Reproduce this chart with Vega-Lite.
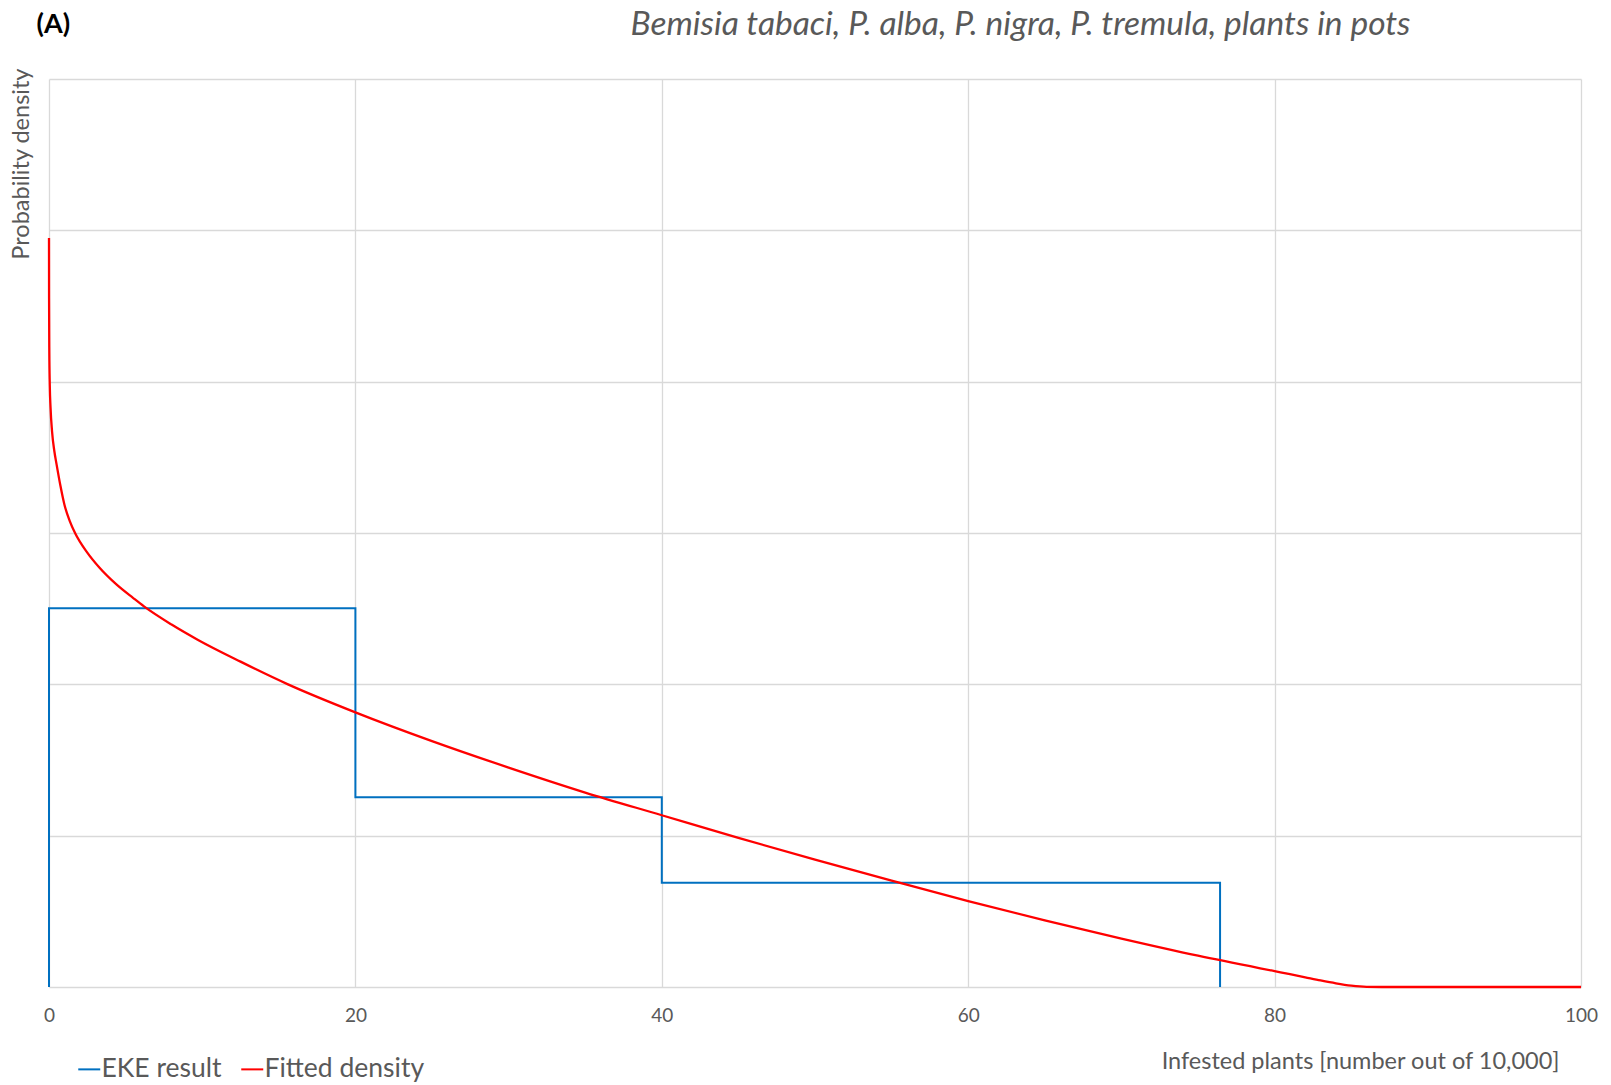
{
  "$schema": "https://vega.github.io/schema/vega-lite/v6.json",
  "autosize": "none",
  "width": 1532,
  "height": 908,
  "padding": {"left": 49, "top": 79, "right": 30, "bottom": 98},
  "background": "white",
  "config": {
    "view": {"stroke": null},
    "font": "Lato",
    "axis": {"gridColor": "#d9d9d9", "gridWidth": 1.3, "domain": false, "ticks": false}
  },
  "title": {
    "text": "Bemisia tabaci, P. alba, P. nigra, P. tremula, plants in pots",
    "font": "Lato",
    "fontStyle": "italic",
    "fontWeight": "normal",
    "fontSize": 33.5,
    "color": "#595959",
    "anchor": "end",
    "dx": -187,
    "baseline": "alphabetic",
    "offset": -58
  },
  "datasets": {
    "eke": [
      {"series": "EKE result", "x": 0, "y": 0, "k": 1},
      {"series": "EKE result", "x": 0, "y": 2.503, "k": 2},
      {"series": "EKE result", "x": 20, "y": 2.503, "k": 3},
      {"series": "EKE result", "x": 20, "y": 1.254, "k": 4},
      {"series": "EKE result", "x": 40, "y": 1.254, "k": 5},
      {"series": "EKE result", "x": 40, "y": 0.689, "k": 6},
      {"series": "EKE result", "x": 76.44, "y": 0.689, "k": 7},
      {"series": "EKE result", "x": 76.44, "y": 0, "k": 8}
    ],
    "fit": [
      {"series": "Fitted density", "x": 0, "y": 4.95},
      {"series": "Fitted density", "x": 0.005, "y": 4.55},
      {"series": "Fitted density", "x": 0.02, "y": 4.2},
      {"series": "Fitted density", "x": 0.05, "y": 3.98},
      {"series": "Fitted density", "x": 0.1, "y": 3.83},
      {"series": "Fitted density", "x": 0.2, "y": 3.67},
      {"series": "Fitted density", "x": 0.35, "y": 3.54},
      {"series": "Fitted density", "x": 0.5, "y": 3.45},
      {"series": "Fitted density", "x": 0.75, "y": 3.31},
      {"series": "Fitted density", "x": 1.0, "y": 3.19},
      {"series": "Fitted density", "x": 1.35, "y": 3.08},
      {"series": "Fitted density", "x": 1.7, "y": 3.0},
      {"series": "Fitted density", "x": 2.5, "y": 2.87},
      {"series": "Fitted density", "x": 3.3, "y": 2.77},
      {"series": "Fitted density", "x": 4.4, "y": 2.66},
      {"series": "Fitted density", "x": 5.5, "y": 2.57},
      {"series": "Fitted density", "x": 6.2, "y": 2.515},
      {"series": "Fitted density", "x": 8, "y": 2.395},
      {"series": "Fitted density", "x": 9.7, "y": 2.295},
      {"series": "Fitted density", "x": 12.5, "y": 2.15},
      {"series": "Fitted density", "x": 15.6, "y": 2.0},
      {"series": "Fitted density", "x": 20, "y": 1.815},
      {"series": "Fitted density", "x": 25, "y": 1.625},
      {"series": "Fitted density", "x": 30, "y": 1.45},
      {"series": "Fitted density", "x": 35, "y": 1.285},
      {"series": "Fitted density", "x": 40, "y": 1.135},
      {"series": "Fitted density", "x": 45, "y": 0.985},
      {"series": "Fitted density", "x": 50, "y": 0.842},
      {"series": "Fitted density", "x": 55, "y": 0.703},
      {"series": "Fitted density", "x": 60, "y": 0.567},
      {"series": "Fitted density", "x": 65, "y": 0.44},
      {"series": "Fitted density", "x": 70, "y": 0.32},
      {"series": "Fitted density", "x": 75, "y": 0.207},
      {"series": "Fitted density", "x": 80, "y": 0.105},
      {"series": "Fitted density", "x": 81, "y": 0.085},
      {"series": "Fitted density", "x": 82, "y": 0.064},
      {"series": "Fitted density", "x": 83, "y": 0.043},
      {"series": "Fitted density", "x": 84, "y": 0.024},
      {"series": "Fitted density", "x": 85, "y": 0.009},
      {"series": "Fitted density", "x": 86, "y": 0.001},
      {"series": "Fitted density", "x": 87, "y": 0},
      {"series": "Fitted density", "x": 100, "y": 0}
    ]
  },
  "resolve": {"axis": {"x": "independent"}},
  "layer": [
    {
      "data": {"name": "eke"},
      "mark": {"type": "line", "strokeWidth": 2, "interpolate": "linear", "clip": false},
      "encoding": {
        "x": {
          "field": "x", "type": "quantitative",
          "scale": {"domain": [0, 100], "nice": false, "zero": false},
          "axis": {
            "orient": "bottom",
            "values": [0, 20, 40, 60, 80, 100],
            "grid": true, "labelFlush": false,
            "labelFont": "Lato", "labelFontSize": 19, "labelColor": "#595959", "labelPadding": 19,
            "title": "Infested plants [number out of 10,000]",
            "titleFont": "Lato", "titleFontSize": 23.5, "titleFontWeight": "normal", "titleColor": "#595959",
            "titleAnchor": "end", "titleAlign": "right", "titleBaseline": "alphabetic",
            "titleX": 1510, "titleY": 81
          }
        },
        "y": {
          "field": "y", "type": "quantitative",
          "scale": {"domain": [0, 6], "nice": false},
          "axis": {
            "values": [0, 1, 2, 3, 4, 5, 6],
            "grid": true, "labels": false,
            "title": "Probability density",
            "titleFont": "Lato", "titleFontSize": 23.5, "titleFontWeight": "normal", "titleColor": "#595959",
            "titleAnchor": "end", "titleAngle": 270, "titleAlign": "right", "titleBaseline": "middle",
            "titleX": -28, "titleY": -11
          }
        },
        "order": {"field": "k", "type": "quantitative"},
        "color": {
          "field": "series", "type": "nominal",
          "scale": {"domain": ["EKE result", "Fitted density"], "range": ["#0070C0", "#FF0000"]},
          "legend": {
            "orient": "none", "legendX": 27, "legendY": 977, "direction": "horizontal",
            "title": null, "padding": 0,
            "symbolType": "stroke", "symbolSize": 484, "symbolStrokeWidth": 2,
            "labelFont": "Lato", "labelFontSize": 26.5, "labelColor": "#595959", "labelOffset": -1,
            "labelLimit": 0,
            "columnPadding": 15
          }
        }
      }
    },
    {
      "data": {"name": "fit"},
      "mark": {"type": "line", "strokeWidth": 2.3, "interpolate": "monotone"},
      "encoding": {
        "x": {
          "field": "x", "type": "quantitative",
          "scale": {"domain": [0, 100], "nice": false, "zero": false},
          "axis": {
            "orient": "top", "grid": false, "labels": false,
            "title": "(A)",
            "titleFont": "Lato", "titleFontSize": 27, "titleFontWeight": "bold", "titleColor": "#000000",
            "titleAnchor": "start", "titleAlign": "left", "titleBaseline": "alphabetic",
            "titleX": -13, "titleY": -47
          }
        },
        "y": {"field": "y", "type": "quantitative"},
        "order": {"field": "x", "type": "quantitative"},
        "color": {"field": "series", "type": "nominal"}
      }
    }
  ]
}
